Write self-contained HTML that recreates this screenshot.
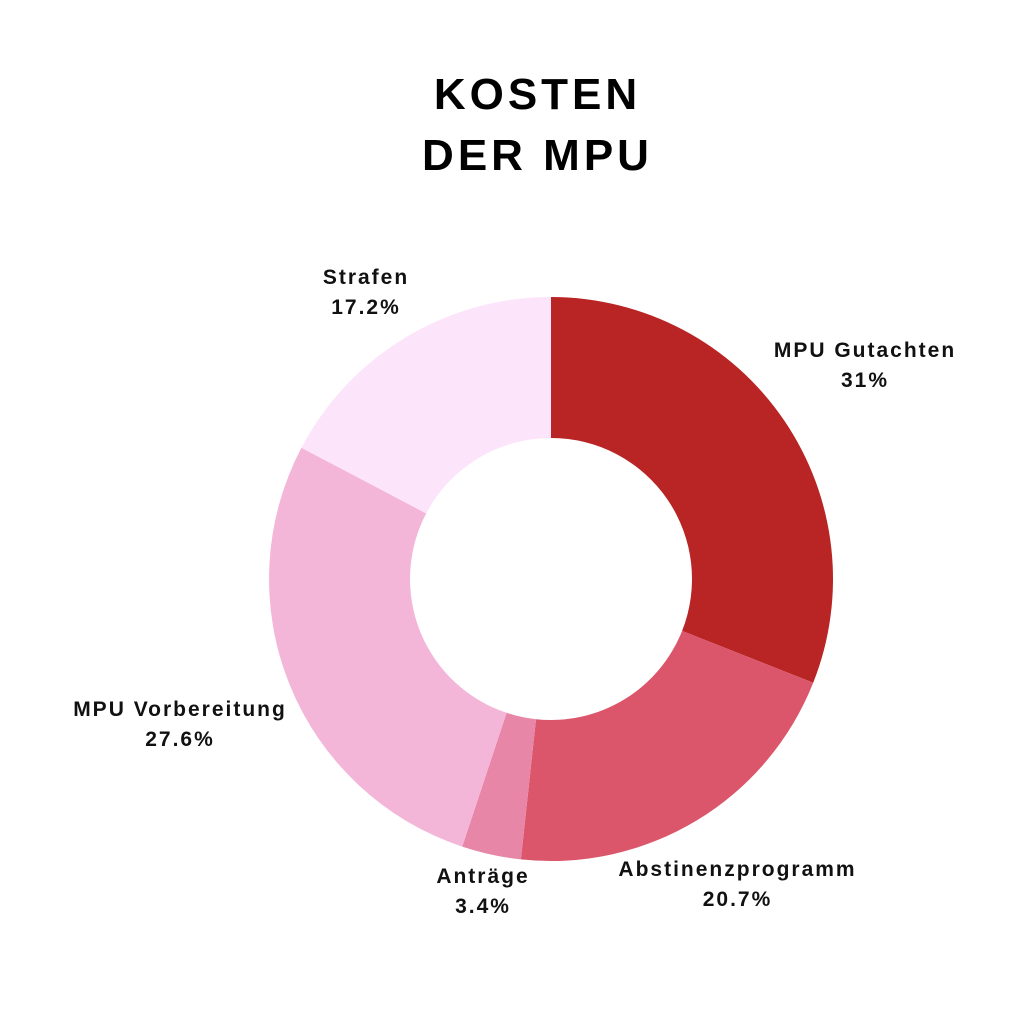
<!DOCTYPE html>
<html><head><meta charset="utf-8"><style>
html,body{margin:0;padding:0;background:#fff;}
body{width:1030px;height:1030px;position:relative;overflow:hidden;font-family:"Liberation Sans","DejaVu Sans",sans-serif;}
.t{position:absolute;left:0;width:1075px;text-align:center;font-weight:bold;font-size:44px;letter-spacing:4px;color:#000;}
.l{position:absolute;text-align:center;font-weight:bold;font-size:21px;letter-spacing:2px;line-height:30px;color:#111;}
</style></head><body>
<div class="t" style="top:70px">KOSTEN</div>
<div class="t" style="top:131px">DER MPU</div>
<svg width="1030" height="1030" style="position:absolute;left:0;top:0">
<path d="M551,297 A282,282 0 0 1 813.2,682.8 L682.1,630.9 A141,141 0 0 0 551,438 Z" fill="#B92424"/>
<path d="M813.2,682.8 A282,282 0 0 1 520.9,859.4 L536,719.2 A141,141 0 0 0 682.1,630.9 Z" fill="#DB566A"/>
<path d="M520.9,859.4 A282,282 0 0 1 462.2,846.6 L506.6,712.8 A141,141 0 0 0 536,719.2 Z" fill="#E886A8"/>
<path d="M462.2,846.6 A282,282 0 0 1 301.4,447.8 L426.2,513.4 A141,141 0 0 0 506.6,712.8 Z" fill="#F4B6D8"/>
<path d="M301.4,447.8 A282,282 0 0 1 551,297 L551,438 A141,141 0 0 0 426.2,513.4 Z" fill="#FCE4FA"/>
</svg>
<div class="l" style="left:296px;top:263px;width:140px">Strafen<br>17.2%</div>
<div class="l" style="left:740px;top:336px;width:250px">MPU Gutachten<br>31%</div>
<div class="l" style="left:30px;top:695px;width:300px">MPU Vorbereitung<br>27.6%</div>
<div class="l" style="left:403px;top:862px;width:160px">Anträge<br>3.4%</div>
<div class="l" style="left:580px;top:855px;width:315px">Abstinenzprogramm<br>20.7%</div>
</body></html>
